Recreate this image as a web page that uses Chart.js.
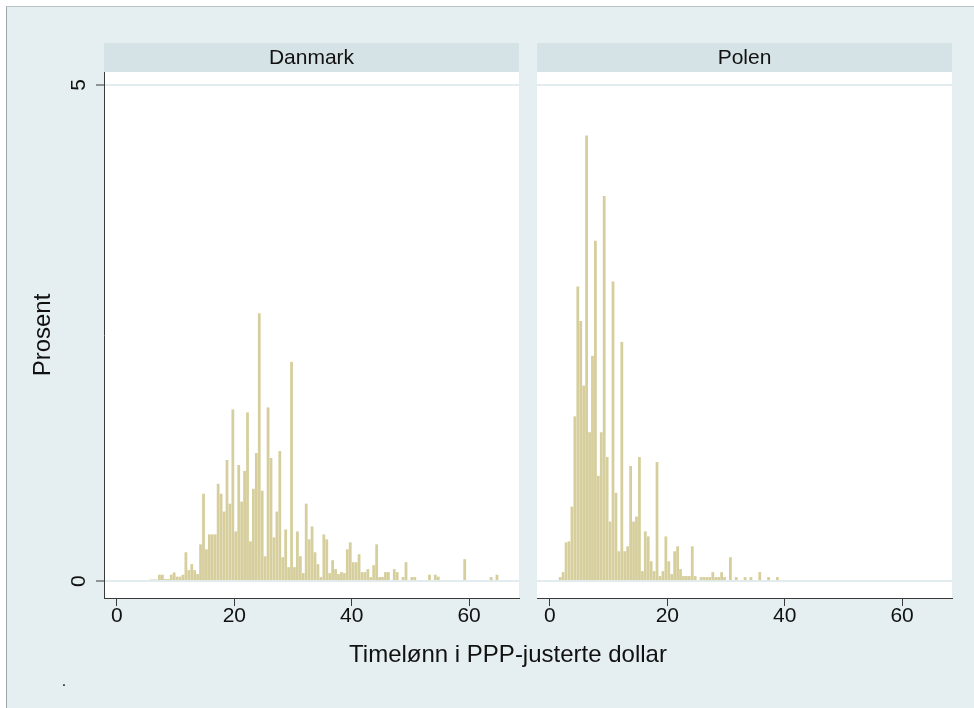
<!DOCTYPE html>
<html>
<head>
<meta charset="utf-8">
<script src="https://cdn.jsdelivr.net/npm/chart.js@4.4.1/dist/chart.umd.min.js"></script>
<style>
    body { margin: 0; background: #ffffff; }
    #frame { position: absolute; left: 6px; top: 6px; width: 968px; height: 702px; background: #e5eef0; border-left: 1px solid #9ea7a9; border-top: 1px solid #b9c2c4; }
    canvas { position: absolute; left: 0; top: 0; }
</style>
</head>
<body>
<div id="frame"></div>
<canvas id="danmarkChart" width="974" height="708"></canvas>
<canvas id="polenChart" width="974" height="708"></canvas>
<script>
const panelTitles = ["Danmark", "Polen"];
const xTitle = "Timelønn i PPP-justerte dollar";
const yTitle = "Prosent";
const xTicks = [0, 20, 40, 60];
const yTicks = [0, 5];

// histogram bins, width 0.5 dollar, first bin start per country
const binWidth = 0.5;
const danmarkBinStart = 5.5;
const polenBinStart = 1.5;

const danmarkValues = [
    0.015, 0.015, 0.015, 0.064, 0.064, 0.02, 0.02, 0.064, 0.087, 0.044,
    0.044, 0.064, 0.29, 0.11, 0.17, 0.11, 0.07, 0.37, 0.88, 0.32,
    0.47, 0.47, 0.47, 0.98, 0.88, 0.70, 1.22, 0.78, 1.73, 0.50,
    1.17, 0.80, 1.11, 1.70, 0.40, 0.93, 1.29, 2.70, 0.91, 0.25,
    1.75, 1.24, 0.44, 0.70, 1.31, 0.24, 0.52, 0.14, 2.21, 0.14,
    0.50, 0.25, 0.08, 0.78, 0.42, 0.55, 0.29, 0.17, 0.04, 0.47,
    0.42, 0.08, 0.21, 0.12, 0.07, 0.09, 0.08, 0.32, 0.39, 0.19,
    0.19, 0.27, 0.09, 0.09, 0.12, 0.04, 0.16, 0.37, 0.04, 0.04,
    0.09, 0.09, 0.01, 0.12, 0.09, 0.01, 0.04, 0.19, 0.01, 0.04,
    0.04, 0.01, 0.01, 0.01, 0.01, 0.064, 0.01, 0.064, 0.044, 0.01,
    0.01, 0.01, 0, 0, 0.01, 0.01, 0, 0.22, 0.01, 0.01,
    0.01, 0.01, 0, 0, 0, 0.01, 0.04, 0.01, 0.064, 0.01,
    0.01
];

const polenValues = [
    0.04, 0.09, 0.39, 0.40, 0.75, 1.66, 2.97, 2.62, 1.97, 4.49,
    1.50, 2.27, 3.43, 1.06, 1.50, 3.88, 1.25, 0.60, 3.02, 0.89,
    0.30, 2.41, 0.30, 0.35, 1.16, 0.60, 0.65, 1.25, 0.10, 0.50,
    0.45, 0.20, 0.10, 1.20, 0.05, 0.10, 0.45, 0.20, 0.07, 0.30,
    0.35, 0.12, 0.05, 0.05, 0.05, 0.35, 0.05, 0, 0.04, 0.04,
    0.04, 0.04, 0.09, 0.04, 0.04, 0.09, 0.04, 0, 0.24, 0,
    0.04, 0, 0, 0.04, 0, 0.04, 0, 0, 0.09, 0,
    0, 0.04, 0, 0, 0.04
];

const fontFamily = '"Liberation Sans", Arial, sans-serif';
const textColor = '#111111';
const axisColor = '#3a3a3a';
const gridColor = '#e2ebed';
const barColor = '#d6cf9d';

function toPoints(start, values) {
    let points = [];
    for (var i = 0; i < values.length; i++) {
        points[i] = {x: start + binWidth * (i + 0.5), y: values[i]};
    }
    return points;
}

const panelPlugin = {
    id: 'panel',
    beforeDraw(chart, args, opts) {
        const ctx = chart.ctx;
        const a = chart.chartArea;
        ctx.save();
        ctx.fillStyle = '#ffffff';
        ctx.fillRect(a.left, a.top, a.right - a.left, a.bottom - a.top);
        ctx.fillStyle = '#d6e3e6';
        ctx.fillRect(a.left, 43, a.right - a.left, a.top - 43);
        ctx.fillStyle = textColor;
        ctx.font = '21px ' + fontFamily;
        ctx.textAlign = 'center';
        ctx.textBaseline = 'middle';
        ctx.fillText(opts.title, (a.left + a.right) / 2, 58);
        ctx.restore();
    },
    afterDraw(chart, args, opts) {
        if (!opts.mainPanel) return;
        const ctx = chart.ctx;
        const yScale = chart.scales.y;
        ctx.save();
        ctx.fillStyle = textColor;
        ctx.font = '21px ' + fontFamily;
        ctx.textAlign = 'center';
        ctx.textBaseline = 'middle';
        yTicks.forEach(function (v) {
            ctx.save();
            ctx.translate(79, yScale.getPixelForValue(v));
            ctx.rotate(-Math.PI / 2);
            ctx.fillText(String(v), 0, 0);
            ctx.restore();
        });
        ctx.font = '24px ' + fontFamily;
        ctx.fillText(xTitle, 508, 655);
        ctx.font = '16px ' + fontFamily;
        ctx.fillText('.', 64, 682);
        ctx.restore();
    }
};

function makeChart(canvasId, title, start, values, mainPanel, padding) {
    return new Chart(canvasId, {
        type: "bar",
        data: {
            datasets: [{
                data: toPoints(start, values),
                backgroundColor: barColor,
                borderWidth: 0,
                barPercentage: 0.95,
                categoryPercentage: 1
            }]
        },
        options: {
            responsive: false,
            animation: false,
            layout: {padding: padding},
            plugins: {
                legend: {display: false},
                tooltip: {enabled: false},
                panel: {title: title, mainPanel: mainPanel}
            },
            scales: {
                x: {
                    type: 'linear',
                    min: -2.2,
                    max: 68.5,
                    offset: false,
                    afterBuildTicks: function (s) { s.ticks = xTicks.map(v => ({value: v})); },
                    afterFit: function (s) { s.height = 110; },
                    grid: {offset: false, drawOnChartArea: false, drawTicks: true, tickLength: 8, tickColor: axisColor, tickWidth: 1},
                    border: {display: true, color: axisColor, width: 1},
                    ticks: {
                        autoSkip: false, maxRotation: 0, padding: -2, color: textColor,
                        font: {family: fontFamily, size: 21}
                    }
                },
                y: {
                    min: -0.171,
                    max: 5.131,
                    afterBuildTicks: function (s) { s.ticks = yTicks.map(v => ({value: v})); },
                    afterFit: function (s) { s.width = mainPanel ? 104 : 0; },
                    grid: {
                        color: gridColor, lineWidth: 2,
                        drawTicks: mainPanel, tickLength: 8, tickColor: axisColor, tickWidth: 1
                    },
                    border: {display: mainPanel, color: axisColor, width: 1},
                    ticks: {display: false},
                    title: {
                        display: mainPanel, text: yTitle, color: textColor,
                        font: {family: fontFamily, size: 24}, padding: {top: 29, bottom: 0}
                    }
                }
            }
        },
        plugins: [panelPlugin]
    });
}

makeChart("danmarkChart", panelTitles[0], danmarkBinStart, danmarkValues, true, {left: 0, top: 72, right: 455, bottom: 0});
makeChart("polenChart", panelTitles[1], polenBinStart, polenValues, false, {left: 537, top: 72, right: 22, bottom: 0});
</script>
</body>
</html>
